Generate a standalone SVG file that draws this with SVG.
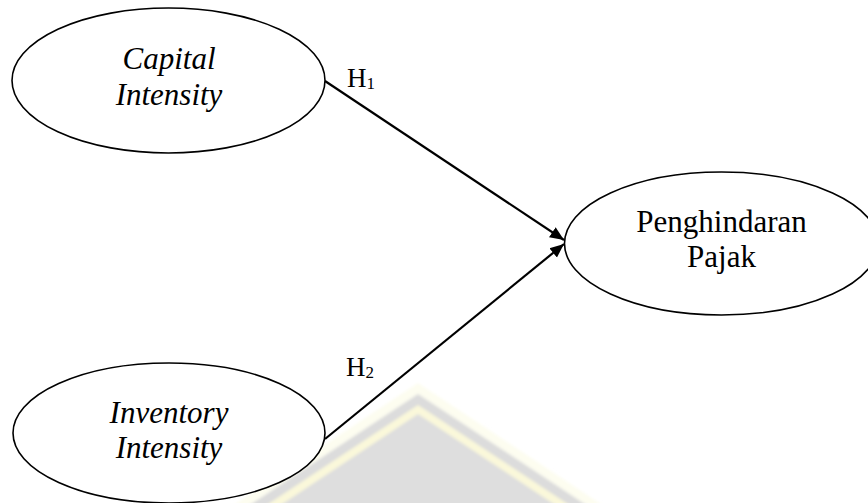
<svg xmlns="http://www.w3.org/2000/svg" width="868" height="503" viewBox="0 0 868 503">
  <style>
    .node ellipse { fill: #ffffff; stroke: #000000; stroke-width: 1.6; }
    .label { font-family: "Liberation Serif", "Times New Roman", serif; font-size: 31px; fill: #000000; text-anchor: middle; }
    .it { font-style: italic; }
    .edge { stroke: #000000; stroke-width: 2.2; fill: none; marker-end: url(#arrow); }
    .hyp { font-family: "Liberation Serif", "Times New Roman", serif; font-size: 27px; fill: #000000; }
    .sub { font-size: 17px; }
  </style>
  <defs>
    <marker id="arrow" markerUnits="userSpaceOnUse" markerWidth="15" markerHeight="13" refX="14" refY="6.5" orient="auto">
      <path d="M0,0.5 L14,6.5 L0,12.5 z" fill="#000000"/>
    </marker>
    <filter id="soft" x="-10%" y="-10%" width="120%" height="120%">
      <feGaussianBlur stdDeviation="1.5"/>
    </filter>
  </defs>

  <rect width="868" height="503" fill="#ffffff"/>

  <!-- faint background emblem (roof shape) -->
  <g id="emblem" filter="url(#soft)">
    <polygon points="418,383 640,530 196,530" fill="#fdfdf0"/>
    <polygon points="418,394 624,530 212,530" fill="#dcdcdc"/>
    <polygon points="418,405 607,530 229,530" fill="#faf8da"/>
    <polygon points="418,414 593,530 243,530" fill="#dedede"/>
  </g>

  <!-- connectors -->
  <g id="connectors">
    <line class="edge" x1="325" y1="81" x2="564" y2="240"/>
    <line class="edge" x1="325" y1="439" x2="564" y2="244"/>
    <text class="hyp" x="347" y="87">H<tspan class="sub" dy="2">1</tspan></text>
    <text class="hyp" x="346" y="376">H<tspan class="sub" dy="2">2</tspan></text>
  </g>

  <g id="capital-intensity" class="node">
    <ellipse cx="168.5" cy="80.5" rx="156.5" ry="72.5"/>
    <text class="label it" x="169" y="69">Capital</text>
    <text class="label it" x="169" y="105">Intensity</text>
  </g>

  <g id="inventory-intensity" class="node">
    <ellipse cx="169" cy="433" rx="156" ry="70"/>
    <text class="label it" x="169" y="423">Inventory</text>
    <text class="label it" x="169" y="458">Intensity</text>
  </g>

  <g id="penghindaran-pajak" class="node">
    <ellipse cx="721.5" cy="243.5" rx="157" ry="71.5"/>
    <text class="label" x="721.5" y="232">Penghindaran</text>
    <text class="label" x="721.5" y="267">Pajak</text>
  </g>
</svg>
